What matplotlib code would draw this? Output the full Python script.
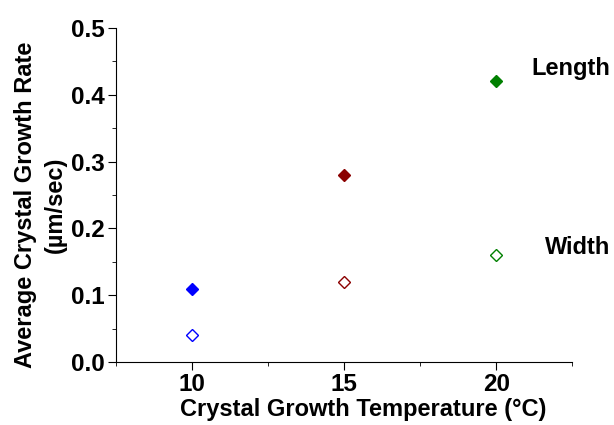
import matplotlib
matplotlib.use("Agg")
import matplotlib.pyplot as plt
from matplotlib.ticker import MultipleLocator, FormatStrFormatter

temps = [10, 15, 20]
length_rate = [0.11, 0.28, 0.42]
width_rate = [0.04, 0.12, 0.16]
colors = ["#0000ff", "#8b0000", "#008000"]

plt.rcParams['font.family'] = ['Liberation Sans', 'DejaVu Sans']
plt.rcParams['font.weight'] = 'bold'
FS = 17

fig = plt.figure(figsize=(6.14, 4.25), dpi=100)
ax = fig.add_axes([0.189, 0.148, 0.743, 0.786])

for t, l, w, c in zip(temps, length_rate, width_rate, colors):
    ax.plot(t, l, marker='D', color=c, markersize=6, linestyle='none')
    ax.plot(t, w, marker='D', markerfacecolor='none', markeredgecolor=c,
            markersize=6.5, markeredgewidth=1, linestyle='none')

ax.set_xlim(7.5, 22.5)
ax.set_ylim(0, 0.5)
ax.xaxis.set_major_locator(MultipleLocator(5))
ax.xaxis.set_minor_locator(MultipleLocator(2.5))
ax.yaxis.set_major_locator(MultipleLocator(0.1))
ax.yaxis.set_minor_locator(MultipleLocator(0.05))
ax.yaxis.set_major_formatter(FormatStrFormatter('%.1f'))

for s in ['top', 'right']:
    ax.spines[s].set_visible(False)
ax.tick_params(axis='both', which='major', labelsize=17.5, length=6, direction='out', pad=2)
ax.tick_params(axis='both', which='minor', length=3, direction='out')

ax.set_xlabel("Crystal Growth Temperature (°C)", fontsize=FS, fontweight='bold')
ax.xaxis.set_label_coords(0.542, -0.108)
ax.set_ylabel("Average Crystal Growth Rate\n(µm/sec)", fontsize=FS, fontweight='bold',
              linespacing=1.35)
ax.yaxis.set_label_coords(-0.108, 0.47)

ax.text(21.15, 0.44, "Length", fontsize=FS, fontweight='bold', va='center', ha='left', clip_on=False)
ax.text(21.6, 0.171, "Width", fontsize=FS, fontweight='bold', va='center', ha='left', clip_on=False)

fig.savefig("out.png", dpi=100)
